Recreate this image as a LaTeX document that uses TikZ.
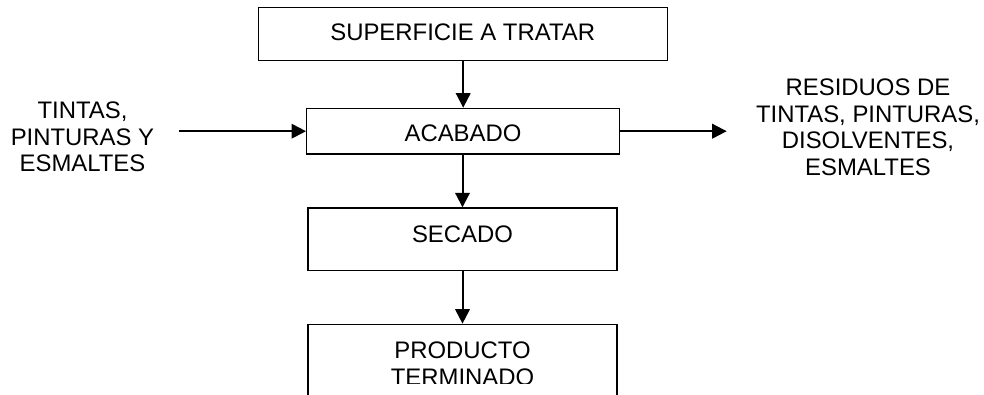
\documentclass[tikz,border=0pt]{standalone}
\usepackage{fontspec}
\setmainfont{Liberation Sans}
\usetikzlibrary{arrows.meta}
\begin{document}
\begin{tikzpicture}[x=1pt,y=-1pt,
  box/.style={draw, line width=1.3pt, rectangle, inner sep=0pt},
  txt/.style={inner sep=0pt, font=\fontsize{23.9}{26.7}\selectfont},
  mtxt/.style={txt, align=center, anchor=north},
  arr/.style={line width=2pt, -{Triangle[length=14.5pt,width=14.5pt]}}]
\useasboundingbox (0,0) rectangle (984,394);
\clip (0,0) rectangle (984,394);
% boxes
\node[box, minimum width=409pt, minimum height=53pt] (sup) at (463.2,33.8) {};
\node[box, minimum width=312.6pt, minimum height=45.7pt] (aca) at (463,131.2) {};
\node[box, minimum width=309pt, minimum height=62.7pt] (sec) at (462.5,239.3) {};
\node[box, minimum width=309pt, minimum height=95.7pt] (pro) at (462.5,372.15) {};
% box texts
\node[txt, anchor=base] (supt) at (462.7,40.7) {SUPERFICIE A TRATAR};
\node[txt, anchor=base] (acat) at (463,141.7) {ACABADO};
\node[txt, anchor=base] (sect) at (462.5,242.3) {SECADO};
\begin{scope}
\clip (300,300) rectangle (630,383);
\node[txt, anchor=base] (prot1) at (462.5,358.5) {PRODUCTO};
\node[txt, anchor=base] (prot2) at (462.5,385) {TERMINADO};
\end{scope}
% side texts
\node[mtxt] (inp) at (82.5,101.6) {TINTAS,\\PINTURAS Y\\ESMALTES};
\node[mtxt] (outp) at (868,78.6) {RESIDUOS DE\\TINTAS, PINTURAS,\\DISOLVENTES,\\ESMALTES};
\coordinate (inL) at (179,131.2);
\coordinate (outR) at (726.7,131.2);
% connectors
\draw[arr] (sup.south) -- (sup.south |- aca.north);
\draw[arr] (inL) -- (aca.west);
\draw[arr] (aca.east) -- (outR);
\draw[arr] (sec.north |- aca.south) -- (sec.north);
\draw[arr] (sec.south) -- (pro.north);
\end{tikzpicture}
\end{document}
